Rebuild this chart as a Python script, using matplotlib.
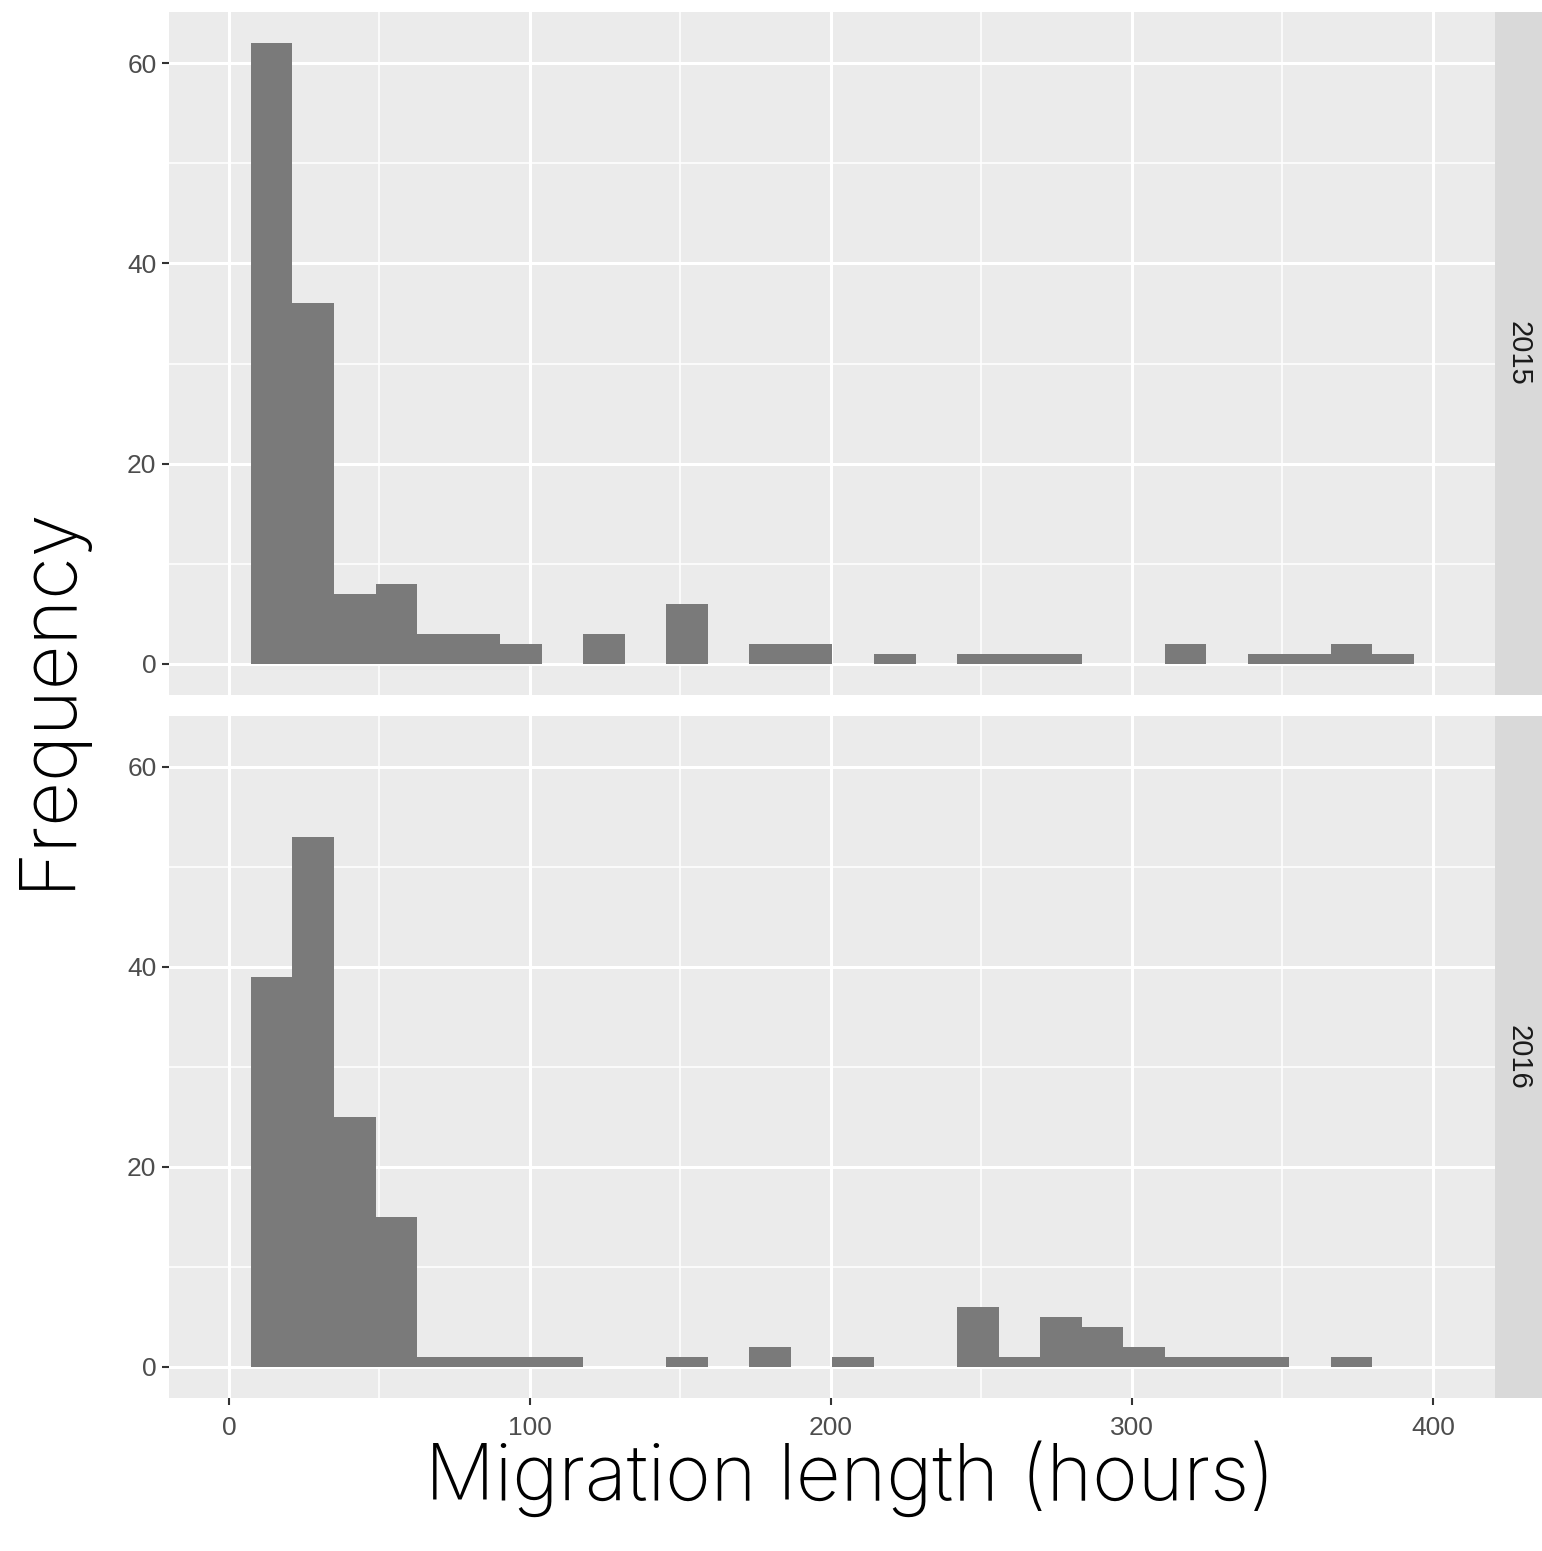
import matplotlib
matplotlib.use("Agg")
import matplotlib.pyplot as plt
import numpy as np

# ---------------------------------------------------------------------------
# Data: histogram counts per bin (bins start at 7.3 h, width 13.8 h)
# ---------------------------------------------------------------------------
bin_start = 7.3
bin_width = 13.8
years = ["2015", "2016"]
counts_2015 = [62, 36, 7, 8, 3, 3, 2, 0, 3, 0, 6, 0, 2, 2, 0, 1, 0, 1, 1, 1,
               0, 0, 2, 0, 1, 1, 2, 1]
counts_2016 = [39, 53, 25, 15, 1, 1, 1, 1, 0, 0, 1, 0, 2, 0, 1, 0, 0, 6, 1, 5,
               4, 2, 1, 1, 1, 0, 1, 0]
x_ticks = [0, 100, 200, 300, 400]
y_ticks = [0, 20, 40, 60]

edges = bin_start + bin_width * np.arange(len(counts_2015) + 1)

# ---------------------------------------------------------------------------
# Style (ggplot2 theme_grey look)
# ---------------------------------------------------------------------------
panel_bg = "#EBEBEB"
strip_bg = "#D9D9D9"
bar_col = "#7A7A7A"
tick_col = "#4D4D4D"
tick_font = "Liberation Sans"
title_font = "Inter"

W, H = 1542, 1551
fig = plt.figure(figsize=(W / 100, H / 100), dpi=100)

left, right = 169 / W, 1495 / W
panels = [(12, 695), (716, 1398)]   # top/bottom pixel rows of each panel

for i, (year, counts) in enumerate(zip(years, [counts_2015, counts_2016])):
    top_px, bot_px = panels[i]
    b = 1 - bot_px / H
    h = (bot_px - top_px) / H
    ax = fig.add_axes([left, b, right - left, h])
    ax.set_facecolor(panel_bg)
    for s in ax.spines.values():
        s.set_visible(False)

    ax.set_xlim(-19.9, 420.6)
    ax.set_ylim(-3.1, 65.1)
    ax.set_xticks(x_ticks)
    ax.set_xticks([50, 150, 250, 350], minor=True)
    ax.set_yticks(y_ticks)
    ax.set_yticks([10, 30, 50], minor=True)
    ax.grid(which="major", color="white", lw=2.2)
    ax.grid(which="minor", color="white", lw=1.1)
    ax.set_axisbelow(True)

    ax.bar(edges[:-1], counts, width=bin_width, align="edge",
           color=bar_col, edgecolor="none", zorder=3)

    ax.tick_params(which="major", length=5, width=1.5, color="#333333",
                   labelcolor=tick_col, labelsize=19, pad=4)
    ax.tick_params(axis="x", which="major", pad=8)
    ax.tick_params(which="minor", length=0)
    for lab in ax.get_yticklabels() + ax.get_xticklabels():
        lab.set_fontfamily(tick_font)
    if i == 0:
        ax.tick_params(axis="x", which="both", bottom=False, labelbottom=False)

    # facet strip on the right
    sax = fig.add_axes([right, b, 1 - right, h])
    sax.set_facecolor(strip_bg)
    sax.set_xticks([])
    sax.set_yticks([])
    for s in sax.spines.values():
        s.set_visible(False)
    sax.text(0.5, 0.5, year, rotation=270, ha="center", va="center",
             fontsize=21, color="#1A1A1A", family=tick_font,
             transform=sax.transAxes)

fig.text(48 / W, 1 - 697 / H, "Frequency", rotation=90, ha="center",
         va="center", fontsize=56, family=title_font, fontweight="light",
         color="black")
fig.text(850 / W, 1 - 1500 / H, "Migration length (hours)", ha="center",
         va="baseline", fontsize=56, family=title_font, fontweight="light",
         color="black")

fig.savefig("out.png", dpi=100)
